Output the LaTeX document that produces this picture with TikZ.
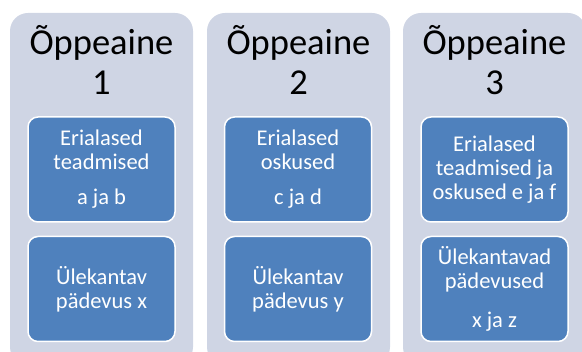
\documentclass[tikz,border=0pt]{standalone}
\usepackage{fontspec}
\setmainfont{Carlito}
\definecolor{panelgray}{RGB}{207,213,228}
\definecolor{boxblue}{RGB}{79,129,189}
\tikzset{
  panel/.style={fill=panelgray, rounded corners=18pt, minimum width=183pt, minimum height=352pt, inner sep=0pt},
  subject/.style={font=\fontsize{36.5}{40}\selectfont, align=center, inner sep=0pt},
  skillbox/.style={fill=boxblue, draw=white, line width=1.5pt, rounded corners=10pt, minimum width=147pt, minimum height=105pt, text=white, align=center, font=\fontsize{22.5}{24}\selectfont, inner sep=2pt}
}
\begin{document}
\begin{tikzpicture}[x=1pt,y=-1pt]
\useasboundingbox (0,0) rectangle (582,352);
% the three subjects
\node[panel] (p1) at (101.5,189) {};
\node[panel] (p2) at (298.5,189) {};
\node[panel] (p3) at (494.5,189) {};
\node[subject, anchor=base] (t1) at (101.5,95) {Õppeaine\\1};
\node[subject, anchor=base] (t2) at (298.5,95) {Õppeaine\\2};
\node[subject, anchor=base] (t3) at (494.5,95) {Õppeaine\\3};
% what each subject gives
\node[skillbox] (k1) at (101.5,169.5) {Erialased\\teadmised\\[11pt]a ja b};
\node[skillbox] (k2) at (298,169.5) {Erialased\\oskused\\[11pt]c ja d};
\node[skillbox] (k3) at (494.5,169.5) {Erialased\\teadmised ja\\oskused e ja f};
\node[skillbox] (u1) at (101.5,289) {Ülekantav\\pädevus x};
\node[skillbox] (u2) at (298,289) {Ülekantav\\pädevus y};
\node[skillbox] (u3) at (494.5,289) {Ülekantavad\\pädevused\\[15pt]x ja z};
\end{tikzpicture}
\end{document}
